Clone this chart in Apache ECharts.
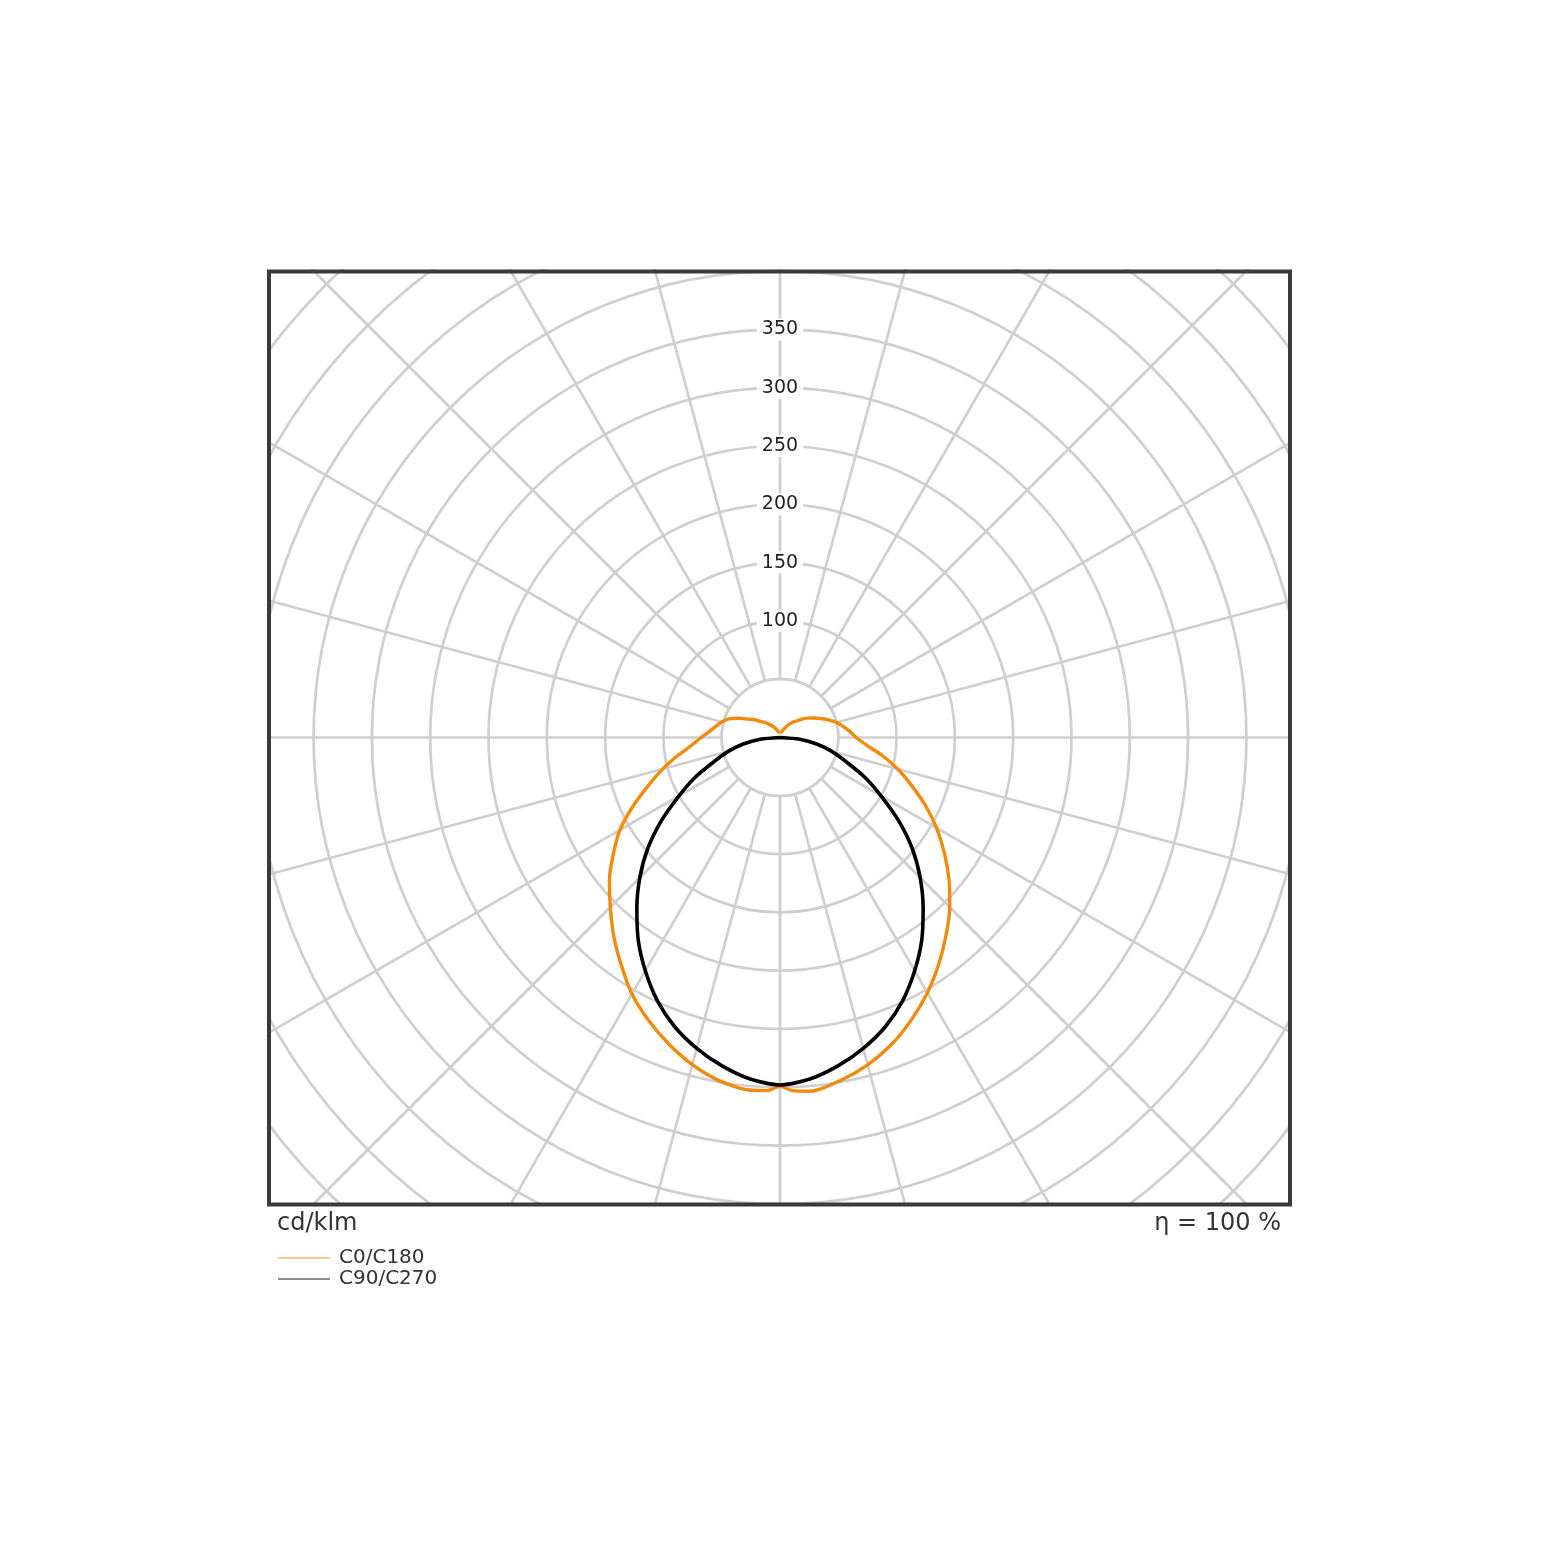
<!DOCTYPE html>
<html>
<head>
<meta charset="utf-8">
<script src="https://cdn.jsdelivr.net/npm/echarts@6/dist/echarts.min.js"></script>
<style>
html,body{margin:0;padding:0;background:#fff;}
#chart{width:1560px;height:1561px;}
</style>
</head>
<body>
<div id="chart"></div>
<script>
// gamma angles (deg from nadir) and intensities (cd/klm)
var orangeAngles = [0,2,5,10,15,20,25,30,35,40,45,50,55,60,65,70,75,80,85,90,95,100,105,110,115,120,125,130,135,140,145,150,155,160,165,170,175,180];
var c0Values   = [299,303,304.5,298.7,290.6,280,267,252.8,237.3,221.5,205.9,189.2,172,155,137.5,120,104.5,89,74.5,65.4,60,55,50,44.3,38.5,33.5,29,24.7,20,17,14,11,8,6,5,4.5,4,4];
var c180Values = [299,303,303.5,299,290.5,279.5,267.3,253.9,237.6,221.9,205.8,191,174.5,158.5,139,120,104,89,76,67.7,60.7,55.8,51.7,46.6,39,31.5,26.5,21.5,18,15,12.5,10,8,6,5,4.5,4,4];
var blackAngles = [0,5,10,15,20,25,30,35,40,45,50,55,60,65,70,75,80,85,90];
var c90Values  = [298,294,286,276,264,249,231,212,191,170,148,124,100,80,60,46,32,17,0];
var c270Values = [298,294,286,276,264,249,231,212,191,170,148,124,100,80,60,46,32,17,0];
var radiusTicks = [100,150,200,250,300,350];
var seriesNames = ['C0/C180','C90/C270'];

function curve(angles, rightVals, leftVals){
  var pts = [];
  for (var i = angles.length - 1; i >= 0; i--) pts.push([leftVals[i], 180 + angles[i]]);
  for (var j = 0; j < angles.length; j++) pts.push([rightVals[j], 180 - angles[j]]);
  return pts;
}

var cx = 780, cy = 737.5, pxPerUnit = 1.166;
var rMax = 600;
var chart = echarts.init(document.getElementById('chart'));
var font = 'DejaVu Sans';
var gridColor = '#cfcfcf';

chart.setOption({
  animation: false,
  backgroundColor: '#ffffff',
  polar: {
    center: [cx, cy],
    radius: [0, rMax * pxPerUnit]
  },
  angleAxis: {
    type: 'value', min: 0, max: 360, interval: 15,
    startAngle: 90, clockwise: true, z: 0,
    axisLine: {show: false}, axisTick: {show: false}, axisLabel: {show: false},
    splitLine: {show: true, lineStyle: {color: gridColor, width: 2.7}}
  },
  radiusAxis: {
    type: 'value', min: 0, max: rMax, interval: 50, z: 1,
    axisLine: {show: false}, axisTick: {show: false},
    axisLabel: {
      show: true, margin: 0, align: 'center', verticalAlign: 'middle',
      fontFamily: font, fontSize: 19, color: '#222', lineHeight: 22,
      backgroundColor: '#ffffff', padding: [0, 5, 0, 5],
      formatter: function (v) { return radiusTicks.indexOf(v) >= 0 ? String(v) : ''; }
    },
    splitLine: {show: true, lineStyle: {color: gridColor, width: 2.7}}
  },
  legend: {
    orient: 'vertical', left: 277, top: 1248, z: 300, padding: 0,
    itemWidth: 52, itemHeight: 10, itemGap: 1,
    textStyle: {fontFamily: font, fontSize: 20, color: '#333', lineHeight: 20, padding: [0, 0, 0, 4]},
    itemStyle: {opacity: 0},
    lineStyle: {opacity: 0.45, width: 2},
    data: seriesNames
  },
  graphic: [
    {type: 'circle', z: 2, shape: {cx: cx, cy: cy, r: 50 * pxPerUnit}, style: {fill: '#fff', stroke: gridColor, lineWidth: 2.7}},
    {type: 'rect', z: 100, shape: {x: 0, y: 0, width: 1560, height: 269}, style: {fill: '#fff'}},
    {type: 'rect', z: 100, shape: {x: 0, y: 1205, width: 1560, height: 356}, style: {fill: '#fff'}},
    {type: 'rect', z: 100, shape: {x: 0, y: 0, width: 269, height: 1561}, style: {fill: '#fff'}},
    {type: 'rect', z: 100, shape: {x: 1290, y: 0, width: 270, height: 1561}, style: {fill: '#fff'}},
    {type: 'rect', z: 150, shape: {x: 269, y: 271.5, width: 1021, height: 933}, style: {fill: null, stroke: '#3a3a3a', lineWidth: 4}},
    {type: 'text', z: 300, left: 277, top: 1212, style: {text: 'cd/klm', font: '24px "DejaVu Sans"', fill: '#333'}},
    {type: 'text', z: 300, right: 279, top: 1212, style: {text: 'η = 100 %', font: '24px "DejaVu Sans"', fill: '#333'}}
  ],
  series: [
    {
      name: seriesNames[0], type: 'line', coordinateSystem: 'polar',
      symbol: 'none', smooth: 0.25, z: 5,
      lineStyle: {color: '#f28a0c', width: 3.4},
      itemStyle: {color: '#f28a0c'},
      data: curve(orangeAngles, c0Values, c180Values)
    },
    {
      name: seriesNames[1], type: 'line', coordinateSystem: 'polar',
      symbol: 'none', smooth: 0.25, z: 6,
      lineStyle: {color: '#000000', width: 3.6},
      itemStyle: {color: '#000000'},
      data: curve(blackAngles, c90Values, c270Values)
    }
  ]
});
</script>
</body>
</html>
